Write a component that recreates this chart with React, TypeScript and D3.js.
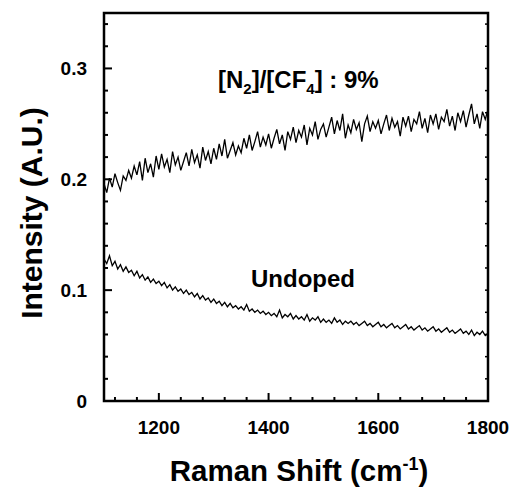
import React from "react";
import * as d3 from "d3";

const layout = {
  width: 513,
  height: 491,
  left: 104,
  right: 488,
  top: 13,
  bottom: 401
};

const xStart = 1100;
const xStep = 5;

// [N2]/[CF4] : 9% spectrum, one value every 5 cm-1 from 1100 to 1800
const dopedValues = [
  0.196, 0.188, 0.201, 0.193, 0.205, 0.197, 0.190, 0.203, 0.199, 0.208,
  0.201, 0.212, 0.204, 0.216, 0.199, 0.219, 0.206, 0.214, 0.202, 0.221,
  0.209, 0.223, 0.211, 0.218, 0.206, 0.225, 0.213, 0.220, 0.208, 0.216,
  0.224, 0.212, 0.227, 0.215, 0.222, 0.210, 0.229, 0.217, 0.225, 0.214,
  0.228, 0.218, 0.232, 0.221, 0.236, 0.219, 0.226, 0.233, 0.222, 0.230,
  0.224, 0.237, 0.228, 0.240, 0.226, 0.234, 0.243, 0.229, 0.238, 0.231,
  0.241, 0.228, 0.237, 0.245, 0.232, 0.240, 0.226, 0.243, 0.236, 0.247,
  0.233, 0.244, 0.238, 0.249, 0.231, 0.246, 0.240, 0.252, 0.236, 0.245,
  0.250, 0.238, 0.247, 0.256, 0.241, 0.253, 0.244, 0.259, 0.237, 0.249,
  0.242, 0.254, 0.245, 0.251, 0.234, 0.250, 0.257, 0.243, 0.252, 0.246,
  0.253, 0.241, 0.250, 0.258, 0.244, 0.255, 0.247, 0.252, 0.239, 0.256,
  0.248, 0.257, 0.243, 0.254, 0.250, 0.261, 0.246, 0.255, 0.242, 0.258,
  0.250, 0.259, 0.245, 0.256, 0.252, 0.263, 0.248, 0.257, 0.244, 0.260,
  0.252, 0.262, 0.247, 0.258, 0.268, 0.250, 0.259, 0.246, 0.261, 0.254,
  0.263
];

// undoped spectrum, same sampling
const undopedValues = [
  0.128, 0.124, 0.131, 0.122, 0.126, 0.119, 0.123, 0.117, 0.121, 0.116,
  0.118, 0.113, 0.117, 0.111, 0.114, 0.109, 0.112, 0.107, 0.110, 0.106,
  0.108, 0.104, 0.107, 0.102, 0.105, 0.100, 0.103, 0.099, 0.101, 0.097,
  0.100, 0.096, 0.098, 0.094, 0.097, 0.092, 0.095, 0.091, 0.093, 0.089,
  0.092, 0.088, 0.090, 0.086, 0.089, 0.085, 0.088, 0.084, 0.086, 0.083,
  0.085, 0.082, 0.087, 0.081, 0.083, 0.080, 0.082, 0.079, 0.081, 0.078,
  0.080, 0.077, 0.079, 0.076, 0.082, 0.075, 0.078, 0.076, 0.079, 0.074,
  0.077, 0.074, 0.076, 0.073, 0.078, 0.072, 0.075, 0.073, 0.076, 0.071,
  0.074, 0.071, 0.073, 0.070, 0.075, 0.071, 0.073, 0.069, 0.072, 0.070,
  0.072, 0.069, 0.071, 0.068, 0.070, 0.072, 0.068, 0.070, 0.067, 0.069,
  0.071, 0.067, 0.069, 0.066, 0.068, 0.070, 0.066, 0.068, 0.065, 0.067,
  0.069, 0.065, 0.067, 0.064, 0.066, 0.068, 0.064, 0.066, 0.063, 0.065,
  0.067, 0.063, 0.065, 0.062, 0.064, 0.066, 0.062, 0.064, 0.061, 0.063,
  0.065, 0.061, 0.063, 0.060, 0.064, 0.059, 0.062, 0.060, 0.063, 0.059,
  0.061
];

const xMajorTicks = [1200, 1400, 1600, 1800];
const xMinorTicks = [1120, 1160, 1240, 1280, 1320, 1360, 1440, 1480, 1520, 1560, 1640, 1680, 1720, 1760];
const yMajorTicks = [0, 0.1, 0.2, 0.3];
const yMinorTicks = [0.02, 0.04, 0.06, 0.08, 0.12, 0.14, 0.16, 0.18, 0.22, 0.24, 0.26, 0.28, 0.32, 0.34];

const font = "'Liberation Sans', Arial, sans-serif";

export default function App() {
  const xScale = d3.scaleLinear().domain([1100, 1800]).range([layout.left, layout.right]);
  const yScale = d3.scaleLinear().domain([0, 0.35]).range([layout.bottom, layout.top]);

  const lineGenerator = d3
    .line<number>()
    .x((d, i) => xScale(xStart + i * xStep))
    .y(d => yScale(d));

  return (
    <svg width={layout.width} height={layout.height} style={{ position: "absolute", left: 0, top: 0 }}>
      <rect width={layout.width} height={layout.height} fill="#fff" />

      <path d={lineGenerator(dopedValues) || ""} fill="none" stroke="#000" strokeWidth={1.3} />
      <path d={lineGenerator(undopedValues) || ""} fill="none" stroke="#000" strokeWidth={1.3} />

      {/* ticks, pointing inward */}
      {xMajorTicks.map(t => (
        <line key={"xM" + t} x1={xScale(t)} x2={xScale(t)} y1={layout.bottom} y2={layout.bottom - 8} stroke="#000" strokeWidth={2} />
      ))}
      {xMinorTicks.map(t => (
        <line key={"xm" + t} x1={xScale(t)} x2={xScale(t)} y1={layout.bottom} y2={layout.bottom - 4} stroke="#000" strokeWidth={2} />
      ))}
      {yMajorTicks.map(t => (
        <line key={"yM" + t} x1={layout.left} x2={layout.left + 8} y1={yScale(t)} y2={yScale(t)} stroke="#000" strokeWidth={2} />
      ))}
      {yMinorTicks.map(t => (
        <line key={"ym" + t} x1={layout.left} x2={layout.left + 4} y1={yScale(t)} y2={yScale(t)} stroke="#000" strokeWidth={2} />
      ))}
      {yMinorTicks.concat(yMajorTicks).map(t => (
        <line key={"yr" + t} x1={layout.right} x2={layout.right - 3} y1={yScale(t)} y2={yScale(t)} stroke="#000" strokeWidth={1.5} />
      ))}

      <rect
        x={layout.left}
        y={layout.top}
        width={layout.right - layout.left}
        height={layout.bottom - layout.top}
        fill="none"
        stroke="#000"
        strokeWidth={2.5}
      />

      {/* tick labels */}
      {xMajorTicks.map(t => (
        <text key={"xl" + t} x={xScale(t)} y={434} textAnchor="middle" fontFamily={font} fontWeight="bold" fontSize={19}>
          {t}
        </text>
      ))}
      {yMajorTicks.map(t => (
        <text key={"yl" + t} x={87} y={yScale(t) + 7} textAnchor="end" fontFamily={font} fontWeight="bold" fontSize={19}>
          {t === 0 ? "0" : d3.format(".1f")(t)}
        </text>
      ))}

      {/* axis titles */}
      <text x={299} y={481} textAnchor="middle" fontFamily={font} fontWeight="bold" fontSize={29.5}>
        Raman Shift (cm<tspan dy={-11} fontSize={18}>-1</tspan><tspan dy={11}>)</tspan>
      </text>
      <text
        transform="translate(42,213) rotate(-90)"
        textAnchor="middle"
        fontFamily={font}
        fontWeight="bold"
        fontSize={30}
      >
        Intensity (A.U.)
      </text>

      {/* annotations */}
      <text x={218} y={88} fontFamily={font} fontWeight="bold" fontSize={24}>
        [N<tspan dy={6} fontSize={15}>2</tspan><tspan dy={-6}>]/[CF</tspan><tspan dy={6} fontSize={15}>4</tspan><tspan dy={-6}>] : 9%</tspan>
      </text>
      <text x={303} y={287} textAnchor="middle" fontFamily={font} fontWeight="bold" fontSize={24}>
        Undoped
      </text>
    </svg>
  );
}
